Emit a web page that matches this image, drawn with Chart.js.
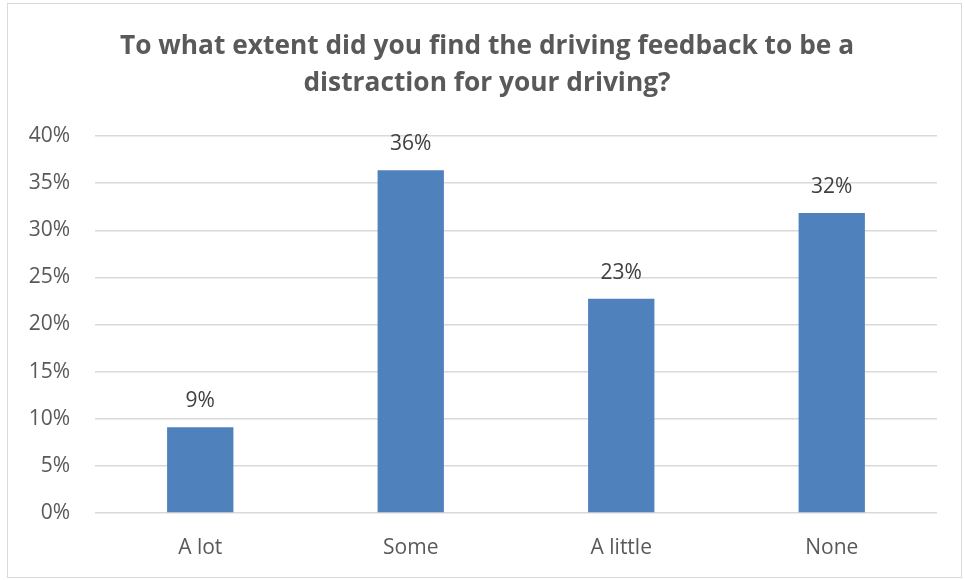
<!DOCTYPE html>
<html>
<head>
<meta charset="utf-8">
<script src="https://cdn.jsdelivr.net/npm/chart.js@4/dist/chart.umd.min.js"></script>
<style>
  html, body { margin: 0; padding: 0; background: #fff; }
  #wrap { position: relative; width: 965px; height: 580px; }
  #frame { position: absolute; left: 7px; top: 3px; width: 955px; height: 575px; border: 1px solid #D9D9D9; box-sizing: border-box; pointer-events: none; }
  canvas { position: absolute; left: 0; top: 0; }
</style>
</head>
<body>
<div id="wrap">
  <canvas id="c" width="965" height="580"></canvas>
  <div id="frame"></div>
</div>
<script>
const titleLines = ["To what extent did you find the driving feedback to be a", "distraction for your driving?"];
const categories = ["A lot", "Some", "A little", "None"];
const values = [9.09, 36.36, 22.73, 31.82];
const valueLabels = ["9%", "36%", "23%", "32%"];
const yTicks = [0, 5, 10, 15, 20, 25, 30, 35, 40];

const FONT = "'Open Sans', 'Noto Sans', sans-serif";

const titlePlugin = {
  id: 'customTitle',
  afterDraw(chart) {
    const ctx = chart.ctx;
    ctx.save();
    ctx.font = "bold 26.3px " + FONT;
    ctx.fillStyle = "#595959";
    ctx.textAlign = "center";
    ctx.textBaseline = "alphabetic";
    ctx.fillText(titleLines[0], 487, 54);
    ctx.fillText(titleLines[1], 487, 91);
    ctx.restore();
  }
};

const dataLabelPlugin = {
  id: 'dataLabels',
  afterDatasetsDraw(chart) {
    const ctx = chart.ctx;
    const meta = chart.getDatasetMeta(0);
    ctx.save();
    ctx.font = "21px " + FONT;
    ctx.fillStyle = "#404040";
    ctx.textAlign = "center";
    ctx.textBaseline = "middle";
    meta.data.forEach((bar, i) => {
      ctx.fillText(valueLabels[i], bar.x, bar.y - 26);
    });
    ctx.restore();
  }
};

new Chart(document.getElementById('c'), {
  type: 'bar',
  data: {
    labels: categories,
    datasets: [{
      data: values,
      backgroundColor: '#4F81BD',
      borderWidth: 0,
      barPercentage: 0.315,
      categoryPercentage: 1.0
    }]
  },
  options: {
    responsive: false,
    animation: false,
    layout: { padding: { left: 10, right: 28, top: 136, bottom: 10 } },
    plugins: {
      legend: { display: false },
      tooltip: { enabled: false },
      title: { display: false }
    },
    scales: {
      x: {
        grid: { display: false, drawTicks: false },
        border: { display: false },
        ticks: { color: '#595959', font: { family: FONT, size: 21 }, padding: 22 },
        afterFit(s) { s.height = 57; }
      },
      y: {
        min: 0, max: 40,
        afterBuildTicks(s) { s.ticks = yTicks.map(v => ({ value: v })); },
        grid: { color: '#D9D9D9', lineWidth: 1.5, drawTicks: false },
        border: { display: false },
        ticks: { color: '#595959', font: { family: FONT, size: 21 }, padding: 25, callback: v => v + '%' },
        afterFit(s) { s.width = 85; }
      }
    }
  },
  plugins: [dataLabelPlugin, titlePlugin]
});
</script>
</body>
</html>
